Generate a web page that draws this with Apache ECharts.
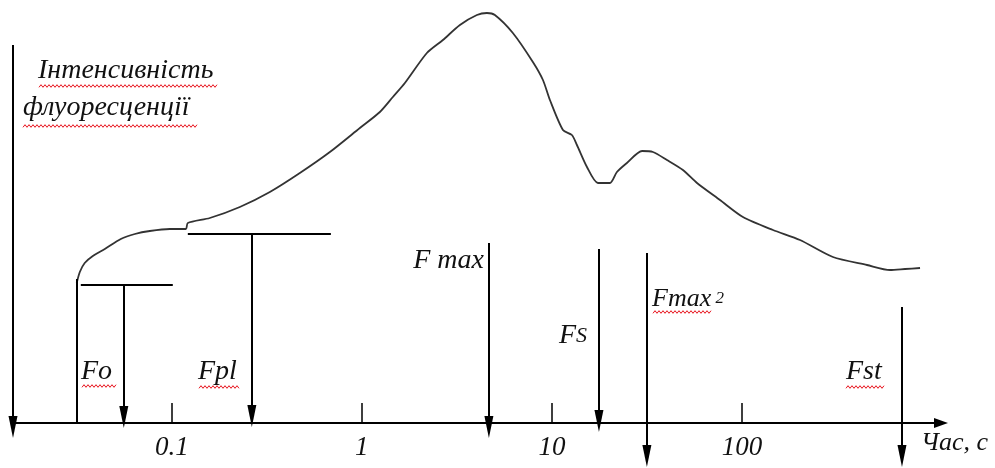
<!DOCTYPE html>
<html><head><meta charset="utf-8">
<script src="https://cdn.jsdelivr.net/npm/echarts@6/dist/echarts.min.js"></script>
<style>html,body{margin:0;padding:0;background:#fff}#c{width:995px;height:468px}</style>
</head><body><div id="c"></div>
<script>
// ---- data (time in seconds, intensity in relative units) ----
const curveTime = [0.0316,0.0328,0.0348,0.0384,0.0444,0.0539,0.0639,0.0766,0.0976,0.1185,
  0.1214,0.1585,0.228,0.328,0.4717,0.6787,0.976,1.244,1.456,1.684,2.198,2.669,3.28,4.03,4.55,5.01,
  6.23,7.94,8.97,9.76,11.43,12.74,13.54,15.29,17.46,20.2,21.98,24.8,29.8,34.0,40.3,48.9,58.0,76.6,
  101.2,145.6,202,301,455,601,721,865];
const curveIntensity = [14.0,15.1,16.0,16.7,17.4,18.4,18.9,19.2,19.4,19.4,
  20.0,20.5,21.6,23.1,25.0,27.1,29.5,31.1,32.6,34.0,37.0,38.3,39.8,40.8,41.0,40.8,
  39.0,36.1,34.3,32.3,29.3,28.8,27.8,25.6,24.0,24.0,25.1,26.0,27.2,27.1,26.3,25.3,24.0,22.3,
  20.6,19.3,18.3,16.6,15.8,15.3,15.4,15.5];

const tickTimes = [0.1, 1, 10, 100];
const tickLabels = ['0.1', '1', '10', '100'];
const timeRange = [0.0146, 1115];
const intensityRange = [-4.5, 42.3];

// event arrows: time, top level, tip level
const markerNames = ['Fo', 'Fpl', 'F max', 'FS', 'Fmax 2', 'Fst'];
const markerTimes = [0.0559, 0.2637, 4.66, 17.68, 31.6, 695];
const markerTop   = [13.8, 18.9, 18.0, 17.4, 17.0, 11.6];
const markerTip   = [-0.5, -0.4, -1.5, -0.9, -4.4, -4.4];

// level lines (Fo, Fpl)
const levelValues = [13.8, 18.9];
const levelFrom   = [0.0332, 0.1214];
const levelTo     = [0.1012, 0.687];

// Fo base line
const foLineTime = 0.0316, foLineTop = 14.4, foLineBottom = 0;
// intensity axis arrow (points down)
const yArrowTime = 0.0146, yArrowTop = 37.8, yArrowTip = -1.5;

// ---- chart ----
const L = Math.log10;
const ARROW = 'path://M5,0L10,22L0,22Z';
const ARROW_SIZE = [9, 22];
const HALF = 1.1; // half arrow length in intensity units (11px)

const lineData = [];
function arrow(t, top, tip) {
  return [{coord: [L(t), top], symbol: 'none'}, {coord: [L(t), tip + HALF]}];
}
function plain(t1, v1, t2, v2) {
  return [{coord: [L(t1), v1], symbol: 'none'}, {coord: [L(t2), v2], symbol: 'none'}];
}
lineData.push(arrow(yArrowTime, yArrowTop, yArrowTip));
markerTimes.forEach((t, i) => lineData.push(arrow(t, markerTop[i], markerTip[i])));
levelValues.forEach((v, i) => lineData.push(plain(levelFrom[i], v, levelTo[i], v)));
lineData.push(plain(foLineTime, foLineTop, foLineTime, foLineBottom));

const FONT = 'italic 28px "Liberation Serif", "Times New Roman", serif';
const txt = (text, x, y, align, font) => ({type: 'text', silent: true,
  style: {text, x, y, font: font || FONT, fill: '#111', textAlign: align || 'left', textVerticalAlign: 'middle'}});
function squiggle(x1, x2, y) {
  const pts = [];
  for (let x = x1, k = 0; x <= x2; x += 2, k++) pts.push([x, y + (k % 2 ? -1.3 : 1.3)]);
  return {type: 'polyline', silent: true, shape: {points: pts}, style: {stroke: '#e8141e', lineWidth: 1, fill: null}};
}

const chart = echarts.init(document.getElementById('c'), null, {renderer: 'canvas'});
chart.setOption({
  animation: false,
  backgroundColor: '#fff',
  grid: {left: 13, right: 54, top: 0, bottom: 0, containLabel: false, outerBoundsMode: 'none'},
  xAxis: {
    type: 'value', min: L(timeRange[0]), max: L(timeRange[1]),
    position: 'bottom', offset: -45,
    splitLine: {show: false},
    axisLine: {show: true, onZero: false, symbol: ['none', 'path://M5,0L10,14L0,14Z'], symbolSize: [12, 14],
      lineStyle: {color: '#000', width: 2}},
    axisTick: {show: true, inside: true, length: 20, customValues: tickTimes.map(L), lineStyle: {color: '#000', width: 1.5}},
    axisLabel: {show: true, customValues: tickTimes.map(L), margin: 11,
      fontFamily: '"Liberation Serif", serif', fontStyle: 'italic', fontSize: 27, color: '#111',
      formatter: v => { let best = 0; tickTimes.forEach((t, i) => { if (Math.abs(L(t) - v) < Math.abs(L(tickTimes[best]) - v)) best = i; }); return tickLabels[best]; }}
  },
  yAxis: {type: 'value', min: intensityRange[0], max: intensityRange[1], show: false, splitLine: {show: false}},
  series: [{
    type: 'line', clip: false, symbol: 'none', smooth: 0.25,
    lineStyle: {color: '#333', width: 1.8},
    data: curveTime.map((t, i) => [L(t), curveIntensity[i]]),
    markLine: {
      silent: true, animation: false, symbol: ['none', ARROW], symbolSize: ARROW_SIZE,
      lineStyle: {color: '#000', width: 2, type: 'solid'},
      label: {show: false}, emphasis: {disabled: true},
      data: lineData
    }
  }],
  graphic: [
    txt('Інтенсивність', 38, 71),
    txt('флуоресценції', 23, 108),
    squiggle(39, 217, 86), squiggle(23, 197, 126),
    txt('Fo', 81, 372), squiggle(82, 116, 386),
    txt('Fpl', 198, 372), squiggle(199, 240, 387),
    txt('F max', 484, 261, 'right'),
    {type: 'text', silent: true, style: {rich: {a: {font: FONT, fill: '#111'}, b: {font: 'italic 22px "Liberation Serif", serif', fill: '#111'}},
      text: '{a|F}{b|S}', x: 559, y: 336, textVerticalAlign: 'middle'}},
    {type: 'text', silent: true, style: {rich: {a: {font: 'italic 26px "Liberation Serif", serif', fill: '#111'}, b: {font: 'italic 17px "Liberation Serif", serif', fill: '#111'}},
      text: '{a|Fmax}{b| 2}', x: 652, y: 299, textVerticalAlign: 'middle'}},
    squiggle(653, 712, 312),
    txt('Fst', 846, 372), squiggle(846, 884, 387),
    txt('Час, с', 921, 443, 'left', 'italic 26px "Liberation Serif", serif')
  ]
});
</script></body></html>
